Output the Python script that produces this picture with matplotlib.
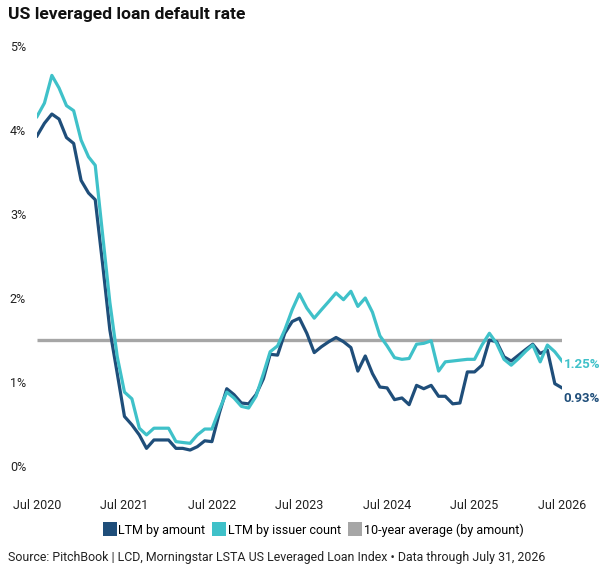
import matplotlib.pyplot as plt
import pandas as pd
from matplotlib.lines import Line2D

plt.rcParams['font.family'] = ['Roboto', 'DejaVu Sans']

# monthly data, Jul 2020 - Jul 2026
months = pd.date_range('2020-07-01', '2026-07-01', freq='MS')

# LTM default rate by amount (%)
by_amount = [3.93, 4.08, 4.19, 4.13, 3.91, 3.84, 3.40, 3.25, 3.17, 2.40, 1.62, 1.10,
             0.59, 0.49, 0.37, 0.21, 0.31, 0.31, 0.31, 0.21, 0.21, 0.19, 0.23, 0.30,
             0.29, 0.63, 0.92, 0.85, 0.75, 0.74, 0.85, 1.04, 1.33, 1.32, 1.58, 1.72,
             1.76, 1.58, 1.35, 1.42, 1.48, 1.53, 1.48, 1.41, 1.13, 1.31, 1.10, 0.94,
             0.93, 0.79, 0.81, 0.73, 0.96, 0.92, 0.96, 0.83, 0.83, 0.74, 0.75, 1.12,
             1.12, 1.20, 1.50, 1.48, 1.30, 1.25, 1.32, 1.39, 1.45, 1.34, 1.38, 0.98,
             0.93]

# LTM default rate by issuer count (%)
by_issuer = [4.16, 4.32, 4.65, 4.50, 4.29, 4.23, 3.88, 3.68, 3.58, 2.75, 1.95, 1.30,
             0.88, 0.80, 0.45, 0.37, 0.45, 0.45, 0.45, 0.29, 0.28, 0.27, 0.37, 0.44,
             0.44, 0.67, 0.88, 0.81, 0.71, 0.69, 0.83, 1.10, 1.36, 1.43, 1.62, 1.86,
             2.05, 1.88, 1.76, 1.86, 1.96, 2.06, 1.98, 2.08, 1.90, 2.00, 1.83, 1.55,
             1.43, 1.29, 1.27, 1.28, 1.45, 1.46, 1.49, 1.13, 1.24, 1.25, 1.26, 1.27,
             1.27, 1.44, 1.58, 1.46, 1.27, 1.20, 1.28, 1.37, 1.44, 1.24, 1.44, 1.36,
             1.25]

ten_year_avg = 1.5

yticks = [0, 1, 2, 3, 4, 5]
ytick_labels = ['0%', '1%', '2%', '3%', '4%', '5%']
xtick_dates = pd.date_range('2020-07-01', '2026-07-01', freq='12MS')
xtick_labels = [d.strftime('Jul %Y') for d in xtick_dates]

navy = '#1f4e7a'
teal = '#3fc1c9'
gray = '#a6a6a6'

fig = plt.figure(figsize=(6.02, 5.74), dpi=100)
ax = fig.add_axes([37 / 602, 1 - 466 / 574, (562 - 37) / 602, (466 - 46) / 574])

ax.plot([months[0], months[-1]], [ten_year_avg, ten_year_avg], color=gray, lw=2.4,
        solid_capstyle='butt')
ax.plot(months, by_amount, color=navy, lw=2.3)
ax.plot(months, by_issuer, color=teal, lw=2.3)

ax.set_xlim(months[0], months[-1])
ax.set_ylim(0, 5)
ax.set_yticks(yticks)
ax.set_yticklabels(ytick_labels)
ax.set_xticks(xtick_dates)
ax.set_xticklabels(xtick_labels)
ax.tick_params(axis='both', length=0, labelsize=9, colors='#222222')
ax.tick_params(axis='y', pad=19.5)
ax.tick_params(axis='x', pad=24)
for lab in ax.get_yticklabels():
    lab.set_horizontalalignment('left')
for s in ax.spines.values():
    s.set_visible(False)

# end labels
ax.annotate(f'{by_issuer[-1]:.2f}%', (months[-1], by_issuer[-1]), xytext=(1, -2.5),
            textcoords='offset points', color=teal, fontsize=9.5, fontweight='bold',
            va='center', ha='left', annotation_clip=False)
ax.annotate(f'{by_amount[-1]:.2f}%', (months[-1], by_amount[-1]), xytext=(1, -8),
            textcoords='offset points', color=navy, fontsize=9.5, fontweight='bold',
            va='center', ha='left', annotation_clip=False)

fig.text(8 / 602, 1 - 14 / 574, 'US leveraged loan default rate', fontsize=12.6,
         fontweight='bold', va='center', ha='left', color='#111111')

handles = [Line2D([], [], marker='s', ls='none', markersize=10, color=c, markeredgewidth=0)
           for c in (navy, teal, gray)]
fig.legend(handles, ['LTM by amount', 'LTM by issuer count', '10-year average (by amount)'],
           loc='center', bbox_to_anchor=(314 / 602, 1 - 530 / 574), ncol=3, frameon=False,
           fontsize=9, handlelength=0.8, handletextpad=0.3,
           columnspacing=0.7, borderpad=0)

fig.text(8 / 602, 1 - 558 / 574,
         'Source: PitchBook | LCD, Morningstar LSTA US Leveraged Loan Index \u2022 Data through July 31, 2026',
         fontsize=8.95, va='center', ha='left', color='#222222')

fig.savefig('out.png', dpi=100)
